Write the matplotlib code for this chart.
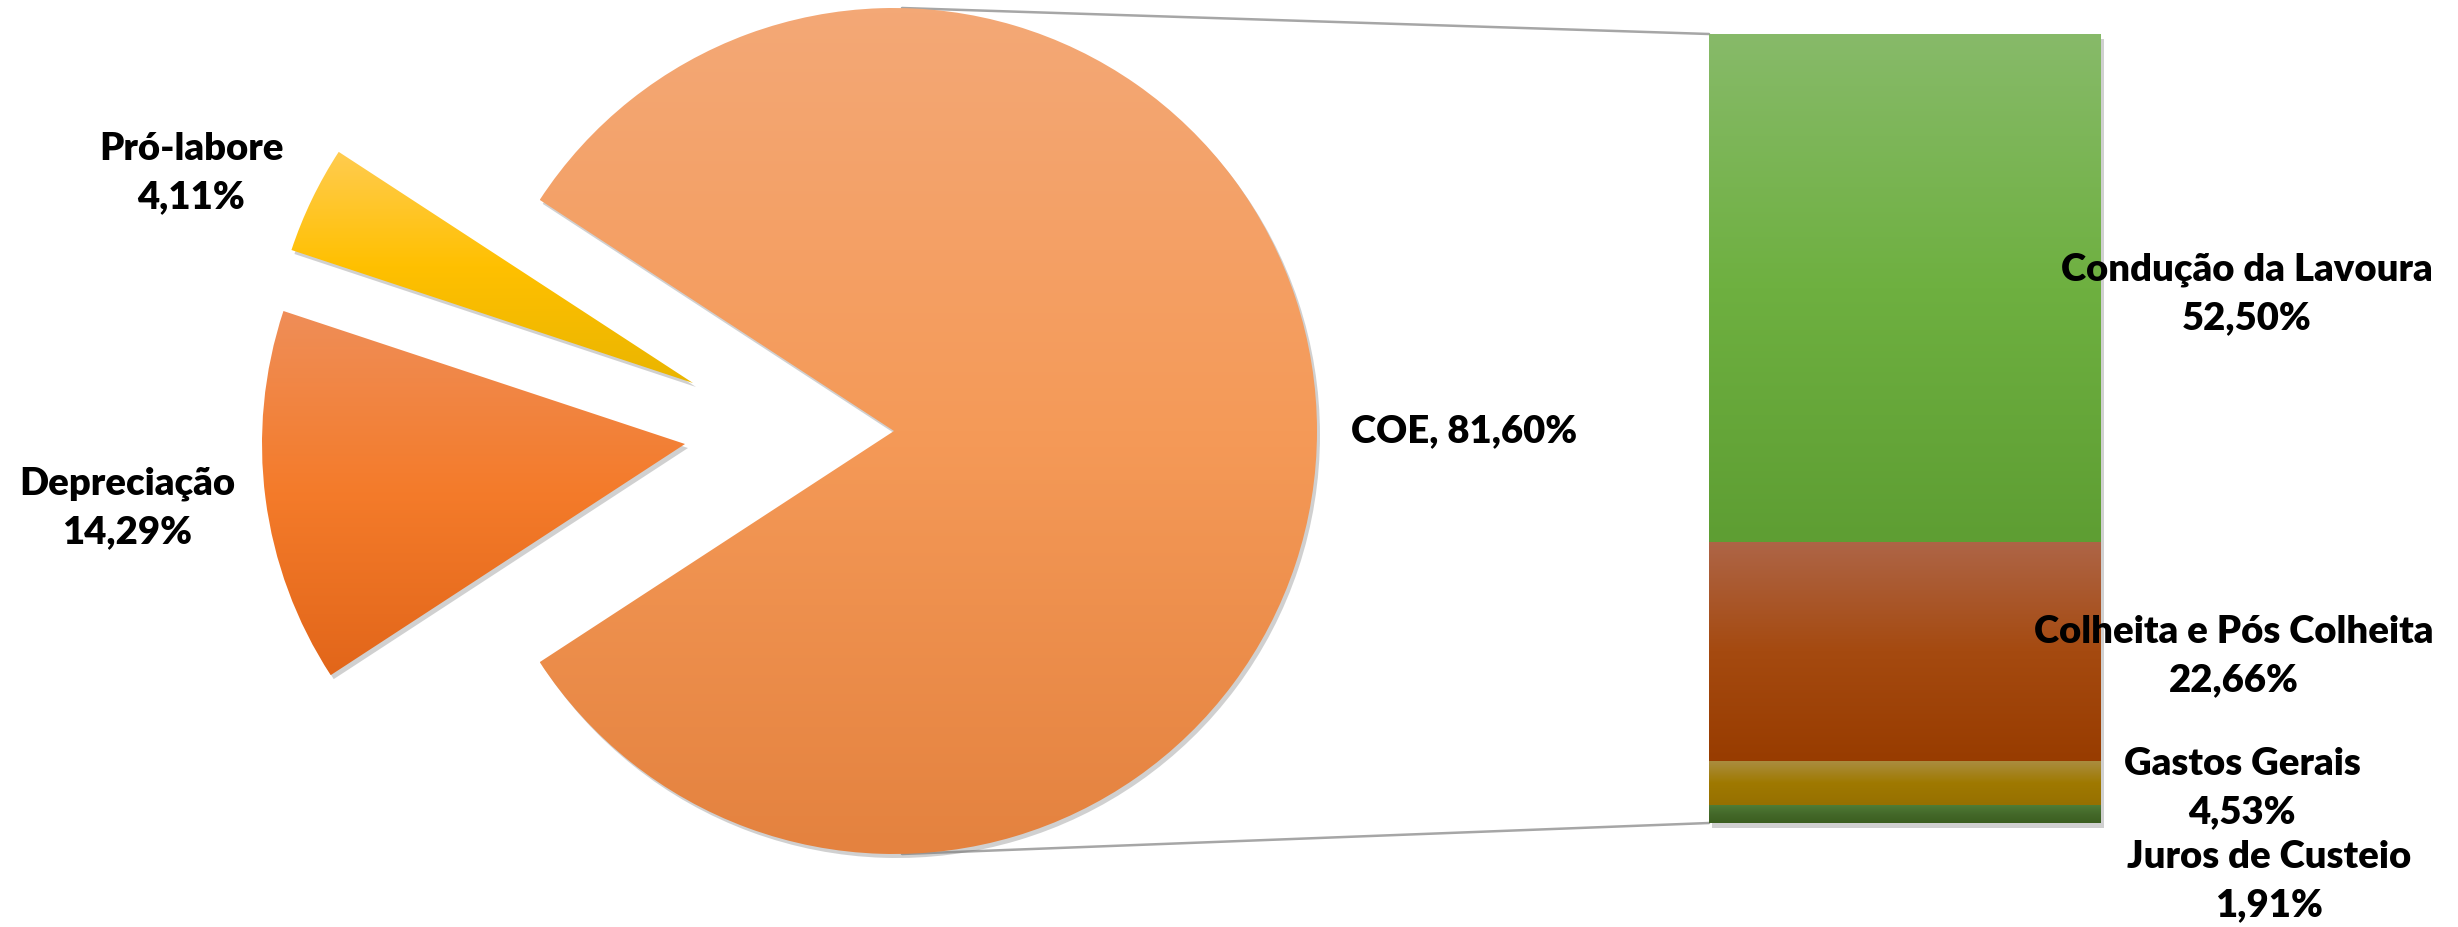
import numpy as np
import matplotlib
matplotlib.use("Agg")
import matplotlib.pyplot as plt
from matplotlib.colors import LinearSegmentedColormap
from matplotlib.patches import ConnectionPatch, Wedge, Rectangle

# ---------------- data ----------------
pie_labels = ["COE", "Pró-labore", "Depreciação"]
pie_values = [81.60, 4.11, 14.29]

bar_labels = ["Juros de Custeio", "Gastos Gerais", "Colheita e Pós Colheita", "Condução da Lavoura"]
bar_values = [1.91, 4.53, 22.66, 52.50]

pie_grads = [("#F3A876", "#F59A58", "#E4823F"),
             ("#FFCC50", "#FFC000", "#EAB500"),
             ("#EF8E58", "#F47B2A", "#E2661A")]
bar_grads = [("#527F36", "#44692A", "#3B5E1F"),
             ("#AA8D40", "#9F7900", "#977000"),
             ("#AE6547", "#A54A10", "#983C00"),
             ("#87BA69", "#6EB040", "#5E9E33")]

W, H = 2458, 927
plt.rcParams['font.family'] = ['Lato', 'DejaVu Sans']
fig = plt.figure(figsize=(W / 100, H / 100), dpi=100)
ax = fig.add_axes([0, 0, 1, 1])
ax.set_zorder(3)


def fmt(v):
    return f"{v:.2f}%".replace(".", ",")


def grad_fill(a, patch, top, mid, bottom, z):
    path = patch.get_path().transformed(patch.get_patch_transform())
    ext = path.get_extents()
    cmap = LinearSegmentedColormap.from_list("g", [bottom, mid, top])
    im = a.imshow(np.linspace(0, 1, 256).reshape(-1, 1), cmap=cmap,
                  extent=[ext.x0, ext.x1, ext.y0, ext.y1], origin="lower",
                  aspect="auto", zorder=z, interpolation="bilinear")
    im.set_clip_path(patch)


# ---------------- pie ----------------
cx, cy, R = 894, H - 431, 423
gap = 360 * (100 - pie_values[0]) / sum(pie_values)
start = 180 + gap / 2 - 360
wedges, _ = ax.pie(pie_values, radius=R, center=(cx, cy), startangle=start,
                   counterclock=True, normalize=True,
                   wedgeprops=dict(linewidth=0, edgecolor="none"))
offsets = [(0, 0), (-201, 48), (-209, -13)]
for w, (dx, dy), g in zip(wedges, offsets, pie_grads):
    w.set_center((cx + dx, cy + dy))
    sh = Wedge((cx + dx + 3, cy + dy - 4), R, w.theta1, w.theta2,
               facecolor="#7a7a7a", alpha=0.35, edgecolor="none", zorder=1)
    ax.add_patch(sh)
    w.set_zorder(2)
    w.set_facecolor("none")
    grad_fill(ax, w, *g, z=2)

ax.set_xlim(0, W)
ax.set_ylim(0, H)
ax.set_aspect("auto")
ax.axis("off")

# ---------------- stacked bar ----------------
bx0, bx1, by0, by1 = 1709, 2101, 34, 823
ax2 = fig.add_axes([bx0 / W, (H - by1) / H, (bx1 - bx0) / W, (by1 - by0) / H])
ax2.set_zorder(1)
bottoms = np.concatenate([[0], np.cumsum(bar_values)[:-1]])
bars = ax2.bar([0] * len(bar_values), bar_values, bottom=bottoms, width=1.0,
               linewidth=0, edgecolor="none")
ax2.add_patch(Rectangle((-0.5 + 0.008, -0.5), 1.0, sum(bar_values), facecolor="#7a7a7a",
                        alpha=0.35, edgecolor="none", zorder=0.5, clip_on=False))
for b, g in zip(bars, bar_grads):
    b.set_facecolor("none")
    b.set_zorder(1)
    grad_fill(ax2, b, *g, z=1)
ax2.set_xlim(-0.5, 0.5)
ax2.set_ylim(0, sum(bar_values))
ax2.axis("off")

# ---------------- connector lines ----------------
for ypie, ybar in [(cy + R, 1), (cy - R, 0)]:
    con = ConnectionPatch(xyA=(cx + 8, ypie), coordsA=ax.transData,
                          xyB=(0, ybar), coordsB=ax2.transAxes,
                          color="#a6a6a6", linewidth=1.8, zorder=0)
    ax2.add_artist(con)

# ---------------- labels ----------------
fs = 27.5
tk = dict(fontsize=fs, fontweight="heavy", color="black", ha="center",
          va="center", multialignment="center", linespacing=1.5, zorder=5)
ax.text(1351, H - 431, f"{pie_labels[0]}, {fmt(pie_values[0])}",
        **{**tk, "ha": "left"})
ax.text(191, H - 173, f"{pie_labels[1]}\n{fmt(pie_values[1])}", **tk)
ax.text(127, H - 508, f"{pie_labels[2]}\n{fmt(pie_values[2])}", **tk)

bar_label_pos = [(2269, 881), (2242, 788), (2234, 656), (2247, 294)]
for lab, v, (x, y) in zip(bar_labels, bar_values, bar_label_pos):
    ax.text(x, H - y, f"{lab}\n{fmt(v)}", **tk)

fig.savefig("out.png", dpi=100)
